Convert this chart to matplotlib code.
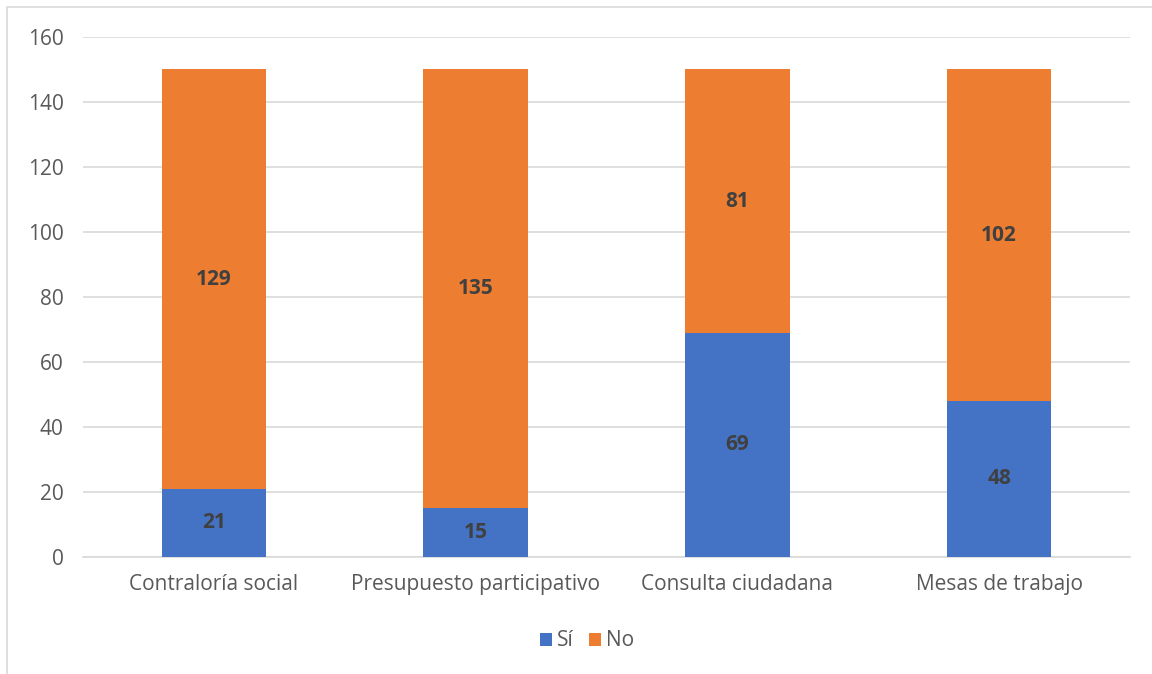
import matplotlib.pyplot as plt
from matplotlib.patches import Rectangle
import numpy as np

categories = ['Contraloría social', 'Presupuesto participativo', 'Consulta ciudadana', 'Mesas de trabajo']
si_values = [21, 15, 69, 48]
no_values = [129, 135, 81, 102]
series_names = ['Sí', 'No']
yticks = [0, 20, 40, 60, 80, 100, 120, 140, 160]

blue = '#4472C4'
orange = '#ED7D31'
text_gray = '#595959'
label_gray = '#404040'

plt.rcParams['font.family'] = ['Open Sans', 'DejaVu Sans']

fig = plt.figure(figsize=(11.52, 6.74), dpi=100)
ax = fig.add_axes([83 / 1152, 1 - 557 / 674, 1047 / 1152, 520 / 674])

# chart border (cut off at right and bottom, as in the reference)
fig.patches.append(Rectangle((7 / 1152, -0.1), 1.2, 1 - 7 / 674 + 0.1,
                             transform=fig.transFigure, fill=False,
                             edgecolor='#d9d9d9', linewidth=1.2))

x = np.arange(len(categories))
w = 0.4
ax.bar(x, si_values, w, color=blue, label=series_names[0], zorder=3)
ax.bar(x, no_values, w, bottom=si_values, color=orange, label=series_names[1], zorder=3)

for i in range(len(categories)):
    ax.text(x[i], si_values[i] / 2, str(si_values[i]), ha='center', va='center',
            fontsize=15, fontweight='bold', color=label_gray, zorder=4)
    ax.text(x[i], si_values[i] + no_values[i] / 2, str(no_values[i]), ha='center', va='center',
            fontsize=15, fontweight='bold', color=label_gray, zorder=4)

ax.set_xlim(-0.5, len(categories) - 0.5)
ax.set_ylim(0, 160)
ax.set_yticks(yticks)
ax.set_xticks(x)
ax.set_xticklabels(categories)
ax.tick_params(axis='both', length=0, labelsize=15, colors=text_gray)
ax.tick_params(axis='y', pad=14)
ax.tick_params(axis='x', pad=12)
ax.grid(axis='y', color='#d9d9d9', linewidth=1.2, zorder=0)
for s in ['top', 'right', 'left']:
    ax.spines[s].set_visible(False)
ax.spines['bottom'].set_color('#d9d9d9')
ax.spines['bottom'].set_linewidth(1.2)

fig.legend(loc='center', bbox_to_anchor=(587 / 1152, 1 - 641 / 674), ncol=2,
           frameon=False, fontsize=15, labelcolor=text_gray,
           handlelength=0.6, handleheight=0.6, handletextpad=0.25, columnspacing=0.7)

fig.savefig('out.png', dpi=100)
